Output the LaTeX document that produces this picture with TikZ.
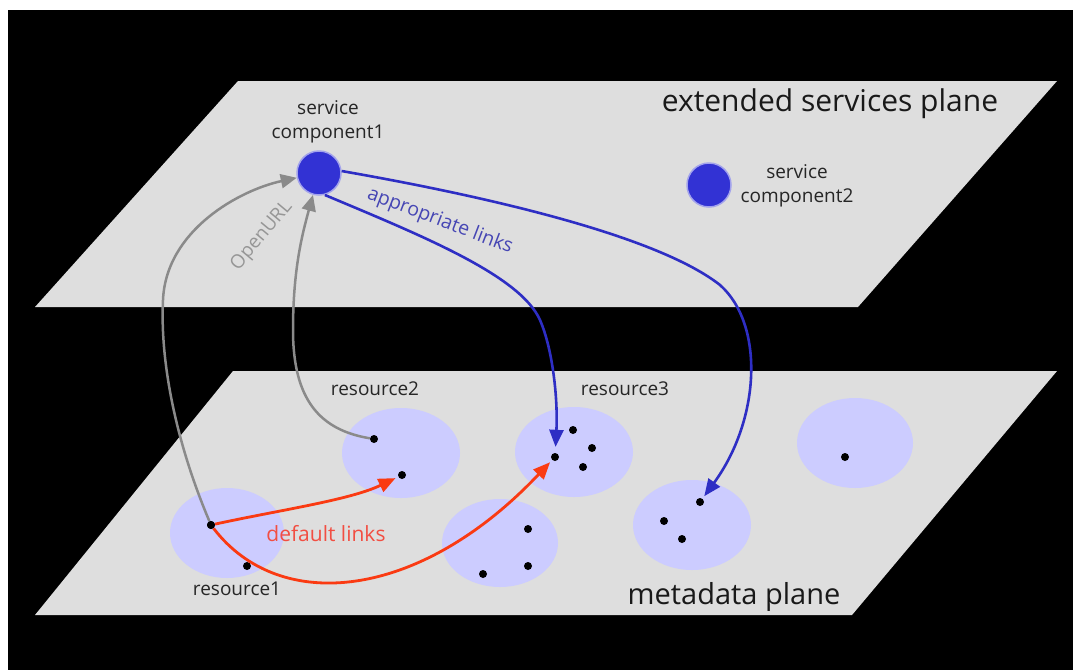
\documentclass[tikz,border=0pt]{standalone}
\usepackage{fontspec}
\setmainfont{Open Sans}
\usetikzlibrary{arrows.meta}
\definecolor{planegray}{RGB}{222,222,222}
\definecolor{lav}{RGB}{204,204,255}
\definecolor{cblue}{RGB}{50,50,212}
\definecolor{ablue}{RGB}{46,46,196}
\definecolor{agray}{RGB}{138,138,138}
\definecolor{ared}{RGB}{250,58,18}
\definecolor{tred}{RGB}{242,78,66}
\definecolor{tblue}{RGB}{70,70,180}
\definecolor{tgray}{RGB}{150,150,150}
\tikzset{
  dotnode/.style={circle,fill=black,inner sep=0pt,minimum size=8pt},
  svc/.style={circle,fill=cblue,draw=white!55!cblue,line width=1.5pt,minimum size=44pt,inner sep=0pt},
  lbl/.style={font=\fontsize{19}{24}\selectfont,text=black!85,align=center,inner sep=0pt},
  bigl/.style={font=\fontsize{30}{34}\selectfont,text=black!90,inner sep=0pt},
  gline/.style={draw=agray,line width=2.5pt,-{Triangle[length=16pt,width=14pt]}},
  bline/.style={draw=ablue,line width=2.6pt,-{Triangle[length=17pt,width=14pt]}},
  rline/.style={draw=ared,line width=2.8pt,-{Triangle[length=17pt,width=14pt]}},
}
\begin{document}
\begin{tikzpicture}[x=1pt,y=-1pt]
\useasboundingbox (0,0) rectangle (1073,670);
\fill[white] (0,0) rectangle (1073,670);
\fill[black] (8,10) rectangle (1073,670);
% planes
\fill[planegray] (238,81) -- (1057,81) -- (858,307) -- (35,307) -- cycle;
\fill[planegray] (233,371) -- (1057,371) -- (852,615) -- (35,615) -- cycle;
% resource blobs
\fill[lav] (227,533) ellipse [x radius=57, y radius=45];
\fill[lav] (401,453) ellipse [x radius=59, y radius=45];
\fill[lav] (574,452) ellipse [x radius=59, y radius=45];
\fill[lav] (500,543) ellipse [x radius=58, y radius=44];
\fill[lav] (692,525) ellipse [x radius=59, y radius=45];
\fill[lav] (855,443) ellipse [x radius=58, y radius=45];
% service components
\node[svc] (sc1) at (319,173) {};
\node[svc] (sc2) at (709,185) {};
% dots
\node[dotnode] (r1a) at (211,525) {};
\node[dotnode] (r1b) at (247,566) {};
\node[dotnode] (r2a) at (374,439) {};
\node[dotnode] (r2b) at (402,475) {};
\node[dotnode] (r3a) at (555,457) {};
\node[dotnode] (r3b) at (573,430) {};
\node[dotnode] (r3c) at (592,448) {};
\node[dotnode] (r3d) at (583,467) {};
\node[dotnode] (r4a) at (528,529) {};
\node[dotnode] (r4b) at (528,566) {};
\node[dotnode] (r4c) at (483,574) {};
\node[dotnode] (r5a) at (700,502) {};
\node[dotnode] (r5b) at (664,521) {};
\node[dotnode] (r5c) at (682,539) {};
\node[dotnode] (r6a) at (845,457) {};
% gray OpenURL links
\draw[gline] (r1a) .. controls (175,440) and (160,360) .. (163,300)
   .. controls (166,230) and (240,190) .. (sc1);
\draw[gline] (r2a) .. controls (320,430) and (293,400) .. (293,330)
   .. controls (293,270) and (302,235) .. (sc1);
% blue appropriate links
\draw[bline,shorten >=6pt] (sc1.-75) .. controls (420,235) and (520,275) .. (540,320)
   .. controls (553,350) and (558,400) .. (r3a);
\draw[bline,shorten >=3pt] (sc1.5) .. controls (450,190) and (650,230) .. (720,285)
   .. controls (765,325) and (760,420) .. (r5a);
% red default links
\draw[rline,shorten >=3pt] (r1a) .. controls (280,510) and (350,500) .. (r2b);
\draw[rline,shorten >=3pt] (r1a) .. controls (280,615) and (420,600) .. (r3a);
% redraw source dot on top
\node[dotnode] at (r1a) {};
% labels
\node[lbl] (t1) at (328,122) {service\\component1};
\node[lbl] (t2) at (797,186) {service\\component2};
\node[lbl] (t3) at (375,389) {resource2};
\node[lbl] (t4) at (625,389) {resource3};
\node[lbl] (t5) at (237,589) {resource1};
\node[lbl,text=tred,font=\fontsize{21}{24}\selectfont] (t6) at (326,534) {default links};
\node[lbl,text=tgray,font=\fontsize{19}{22}\selectfont,rotate=50] (t7) at (262,236) {OpenURL};
\node[lbl,text=tblue,font=\fontsize{19.5}{22}\selectfont,rotate=-21] (t8) at (440,221) {appropriate links};
\node[bigl] (t9) at (830,104) {extended services plane};
\node[bigl,font=\fontsize{29}{34}\selectfont] (t10) at (734,597) {metadata plane};
\end{tikzpicture}
\end{document}
